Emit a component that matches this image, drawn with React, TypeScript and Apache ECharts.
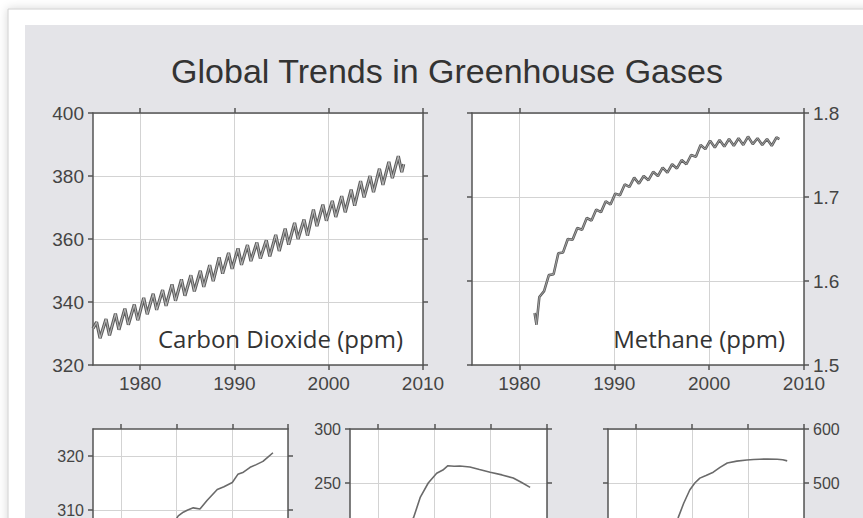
import React, { useEffect, useRef } from "react";
import * as echarts from "echarts";

const chartTitle = "Global Trends in Greenhouse Gases";
const co2Label = "Carbon Dioxide (ppm)";
const ch4Label = "Methane (ppm)";

// Shared time axis ticks
const decadeTicks = [1980, 1990, 2000, 2010];

// Ticks and labelled values for each panel's value axis
const co2Ticks = [320, 340, 360, 380, 400];
const ch4Ticks = [1.5, 1.6, 1.7, 1.8];
const n2oTicks = [290, 300, 310, 320];
const n2oLabels = [310, 320];
const cfc11Ticks = [100, 150, 200, 250, 300];
const cfc11Labels = [250, 300];
const cfc12Ticks = [200, 300, 400, 500, 600];
const cfc12Labels = [500, 600];

// Carbon dioxide (ppm): spring maximum and autumn minimum of each year
const co2Years = [
  1975, 1976, 1977, 1978, 1979, 1980, 1981, 1982, 1983, 1984, 1985, 1986,
  1987, 1988, 1989, 1990, 1991, 1992, 1993, 1994, 1995, 1996, 1997, 1998,
  1999, 2000, 2001, 2002, 2003, 2004, 2005, 2006, 2007,
];
const co2Peak = [
  333.6, 334.6, 336.3, 337.9, 339.2, 341.3, 342.6, 343.8, 345.6, 347.2, 348.5,
  349.9, 351.7, 354.2, 355.6, 357.0, 358.1, 358.9, 359.6, 361.3, 363.3, 365.1,
  366.2, 369.3, 370.9, 372.1, 373.6, 375.7, 378.4, 380.0, 382.3, 384.5, 386.3,
];
const co2Trough = [
  328.5, 329.4, 331.2, 332.8, 334.2, 336.1, 337.5, 338.8, 340.4, 342.0, 343.4,
  344.8, 346.6, 349.0, 350.5, 351.8, 353.0, 353.8, 354.5, 356.2, 358.2, 360.0,
  361.1, 364.1, 365.8, 367.0, 368.5, 370.6, 373.2, 374.9, 377.2, 379.3, 381.2,
];
const co2First = [1975.0, 331.6];
const co2Last = [2007.95, 383.8];

// Methane (ppm): opening readings, then winter and summer values per year
const ch4LeadYears = [1981.6, 1981.8];
const ch4LeadValues = [1.562, 1.548];
const ch4Years = [
  1982, 1983, 1984, 1985, 1986, 1987, 1988, 1989, 1990, 1991, 1992, 1993,
  1994, 1995, 1996, 1997, 1998, 1999, 2000, 2001, 2002, 2003, 2004, 2005,
  2006,
];
const ch4Winter = [
  1.581, 1.607, 1.633, 1.65, 1.663, 1.675, 1.685, 1.695, 1.704, 1.715, 1.723,
  1.725, 1.73, 1.735, 1.739, 1.744, 1.75, 1.762, 1.767, 1.768, 1.769, 1.77,
  1.772, 1.77, 1.769,
];
const ch4Summer = [
  1.588, 1.608, 1.634, 1.649, 1.661, 1.672, 1.682, 1.691, 1.702, 1.712, 1.716,
  1.72, 1.725, 1.729, 1.734, 1.739, 1.748, 1.757, 1.759, 1.76, 1.761, 1.762,
  1.763, 1.762, 1.761,
];
const ch4TailYears = [2007.1, 2007.4];
const ch4TailValues = [1.771, 1.769];

// Nitrous oxide (ppb)
const n2oYears = [
  1977, 1980, 1983, 1986, 1988, 1989.5, 1990.3, 1991.2, 1992, 1993, 1994.2,
  1995.5, 1997.3, 1998.5, 2000, 2001, 2002, 2003.2, 2004.3, 2005.5, 2006.5,
  2007.3,
];
const n2oValues = [
  298.5, 300.5, 302.5, 304.8, 306.3, 307.6, 308.9, 309.6, 310.0, 310.4, 310.2,
  311.8, 313.8, 314.3, 315.1, 316.6, 317.0, 317.9, 318.4, 319.0, 319.9, 320.6,
];

// CFC-11 (ppt)
const cfc11Years = [
  1977, 1979, 1981, 1983, 1985, 1986.3, 1987.5, 1988.9, 1990.4, 1991.5, 1992.4,
  1993.5, 1994.5, 1996.3, 1998, 1999.9, 2002, 2004, 2005.5, 2007,
];
const cfc11Values = [
  140, 160, 178, 192, 208, 218, 237, 250, 259, 262, 266, 265.5, 265.7, 264.8,
  262.5, 260, 257.5, 254.6, 250.5, 246,
];

// CFC-12 (ppt)
const cfc12Years = [
  1977, 1980, 1983, 1986, 1987.5, 1988.5, 1989.6, 1990.5, 1991.4, 1992.5,
  1993.8, 1995, 1996.3, 1998, 1999.8, 2001, 2002.1, 2003.5, 2005.2, 2006.2,
  2007,
];
const cfc12Values = [
  250, 300, 350, 405, 435, 462, 487, 500, 509, 514, 520, 529, 537, 540.5,
  542.6, 543.5, 544, 544.5, 544, 543, 541,
];

const pairs = (xs: number[], ys: number[]) => xs.map((x, i) => [x, ys[i]]);

function buildCo2() {
  const pts: number[][] = [co2First];
  co2Years.forEach((y, i) => {
    pts.push([y + 0.38, co2Peak[i]]); // May
    pts.push([y + 0.75, co2Trough[i]]); // October
  });
  pts.push(co2Last);
  return pts;
}

function buildCh4() {
  const pts: number[][] = pairs(ch4LeadYears, ch4LeadValues);
  ch4Years.forEach((y, i) => {
    pts.push([y + 0.1, ch4Winter[i]]);
    pts.push([y + 0.6, ch4Summer[i]]);
  });
  return pts.concat(pairs(ch4TailYears, ch4TailValues));
}

const AXIS = "#555";
const LABEL = "#444";
const GRIDLINE = "#d3d3d3";
const SANS = '"Liberation Sans", Arial, sans-serif';
const HUMANIST = '"Open Sans", "Noto Sans", sans-serif';

type Panel = {
  left: number;
  top: number;
  width: number;
  height: number;
  ticks: number[];
  labels: number[];
  yearLabels: boolean;
  side: "left" | "right";
  fontSize: number;
  decimals?: number;
};

const panels: Panel[] = [
  { left: 93, top: 113, width: 330, height: 252, ticks: co2Ticks, labels: co2Ticks, yearLabels: true, side: "left", fontSize: 19 },
  { left: 472, top: 113, width: 332, height: 252, ticks: ch4Ticks, labels: ch4Ticks, yearLabels: true, side: "right", fontSize: 19, decimals: 1 },
  { left: 93, top: 429, width: 195, height: 189, ticks: n2oTicks, labels: n2oLabels, yearLabels: false, side: "left", fontSize: 16 },
  { left: 350, top: 429, width: 197, height: 216, ticks: cfc11Ticks, labels: cfc11Labels, yearLabels: false, side: "left", fontSize: 16 },
  { left: 608, top: 429, width: 196, height: 216, ticks: cfc12Ticks, labels: cfc12Labels, yearLabels: false, side: "right", fontSize: 16 },
];
const panelMax = [400, 1.8, 325, 300, 600];

function buildOption() {
  const lineStyle = { color: AXIS, width: 1.5 };
  const grid: any[] = [];
  const xAxis: any[] = [];
  const yAxis: any[] = [];

  panels.forEach((p, i) => {
    grid.push({
      left: p.left,
      top: p.top,
      width: p.width,
      height: p.height,
      show: true,
      backgroundColor: "#ffffff",
      borderWidth: 0,
      containLabel: false,
      outerBoundsMode: "none",
    });
    const labelBase = {
      color: LABEL,
      fontSize: p.fontSize,
      fontFamily: SANS,
    };
    ["bottom", "top"].forEach((pos) => {
      xAxis.push({
        type: "value",
        gridIndex: i,
        position: pos,
        min: 1975,
        max: 2010,
        interval: 5,
        axisLine: { show: true, onZero: false, lineStyle },
        axisTick: { show: true, length: 5, lineStyle, customValues: decadeTicks },
        axisLabel: {
          show: pos === "bottom" && p.yearLabels,
          customValues: decadeTicks,
          margin: 9,
          formatter: (v: number) => String(v),
          ...labelBase,
        },
        splitLine: { show: pos === "bottom", lineStyle: { color: GRIDLINE, width: 1 } },
      });
    });
    const yMin = p.ticks[0];
    ["left", "right"].forEach((pos) => {
      yAxis.push({
        type: "value",
        gridIndex: i,
        position: pos,
        min: yMin,
        max: panelMax[i],
        axisLine: { show: true, onZero: false, lineStyle },
        axisTick: { show: true, length: 5, lineStyle, customValues: p.ticks },
        axisLabel: {
          show: pos === p.side,
          customValues: p.labels,
          margin: 9,
          formatter: (v: number) => (p.decimals ? v.toFixed(p.decimals) : String(v)),
          ...labelBase,
        },
        splitLine: { show: pos === "left", lineStyle: { color: GRIDLINE, width: 1 } },
      });
    });
  });

  const outlined = (idx: number, data: number[][], outer: number, inner: number) => [
    {
      type: "line",
      xAxisIndex: idx * 2,
      yAxisIndex: idx * 2,
      data,
      symbol: "none",
      silent: true,
      z: 3,
      lineStyle: { color: "#5c5c5c", width: outer },
    },
    {
      type: "line",
      xAxisIndex: idx * 2,
      yAxisIndex: idx * 2,
      data,
      symbol: "none",
      silent: true,
      z: 4,
      lineStyle: { color: "#b4b4b4", width: inner },
    },
  ];
  const plain = (idx: number, data: number[][]) => ({
    type: "line",
    xAxisIndex: idx * 2,
    yAxisIndex: idx * 2,
    data,
    symbol: "none",
    silent: true,
    z: 3,
    lineStyle: { color: "#6a6a6a", width: 1.6 },
  });

  const series = [
    ...outlined(0, buildCo2(), 3.2, 1.1),
    ...outlined(1, buildCh4(), 2.6, 0.8),
    plain(2, pairs(n2oYears, n2oValues)),
    plain(3, pairs(cfc11Years, cfc11Values)),
    plain(4, pairs(cfc12Years, cfc12Values)),
  ];

  const panelText = (text: string, x: number) => ({
    type: "text",
    z: 10,
    silent: true,
    x,
    y: 338,
    style: {
      text,
      font: `24px ${HUMANIST}`,
      fill: "#333333",
      textAlign: "right",
      textVerticalAlign: "middle",
    },
  });

  const graphic = [
    {
      type: "rect",
      z: -20,
      silent: true,
      shape: { x: 8, y: 9, width: 900, height: 800 },
      style: {
        fill: "#ffffff",
        stroke: "#cfcfcf",
        lineWidth: 1,
        shadowBlur: 10,
        shadowColor: "rgba(0,0,0,0.16)",
      },
    },
    {
      type: "rect",
      z: -19,
      silent: true,
      shape: { x: 25, y: 25, width: 900, height: 800 },
      style: { fill: "#e4e4e8" },
    },
    {
      type: "text",
      z: 10,
      silent: true,
      x: 447,
      y: 71,
      style: {
        text: chartTitle,
        font: `34px ${SANS}`,
        fill: "#333333",
        textAlign: "center",
        textVerticalAlign: "middle",
      },
    },
    panelText(co2Label, 403),
    panelText(ch4Label, 785),
  ];

  return {
    animation: false,
    backgroundColor: "#ffffff",
    grid,
    xAxis,
    yAxis,
    series,
    graphic,
  };
}

export default function App() {
  const ref = useRef<HTMLDivElement>(null);
  useEffect(() => {
    if (!ref.current) return;
    const chart = echarts.init(ref.current, null, { renderer: "svg" });
    chart.setOption(buildOption() as any);
    return () => chart.dispose();
  }, []);
  return (
    <div
      ref={ref}
      style={{ position: "fixed", left: 0, top: 0, width: 863, height: 700 }}
    />
  );
}
